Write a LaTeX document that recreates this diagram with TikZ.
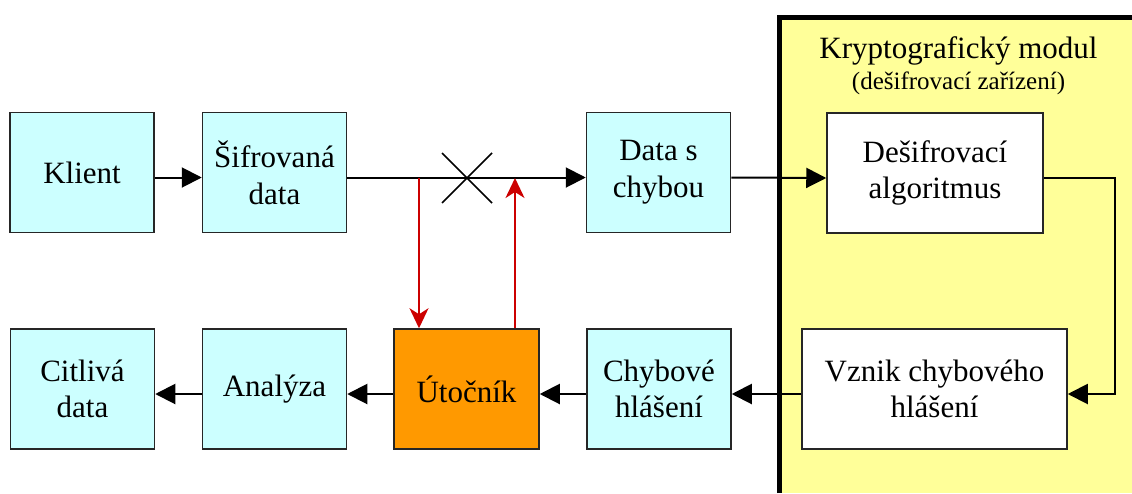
\documentclass[tikz,border=0pt]{standalone}
\usepackage{fontspec}
\setmainfont{Liberation Serif}
\usetikzlibrary{arrows.meta,calc}
\definecolor{boxcyan}{HTML}{CCFFFF}
\definecolor{attorange}{HTML}{FF9900}
\definecolor{modyellow}{HTML}{FFFF99}
\definecolor{attred}{HTML}{CC0000}
\tikzset{
  blk/.style={draw=black!85, line width=1.5pt, fill=boxcyan, minimum height=120pt, minimum width=144pt, align=center, inner sep=0pt, font=\fontsize{31}{36.7}\selectfont},
  conn/.style={line width=2pt, -{Triangle[length=20pt,width=20pt]}},
  redarr/.style={attred, line width=2pt, -{Stealth[length=20pt,width=19pt,inset=6pt]}},
}
\begin{document}
\begin{tikzpicture}[x=1pt,y=-1pt]
\useasboundingbox (0,0) rectangle (1132,493);
% crypto module region
\fill[modyellow] (779.5,17.5) rectangle (1132,493);
\draw[line width=5pt] (779.5,493) -- (779.5,17.5) -- (1132,17.5);
\node[font=\fontsize{31}{36}\selectfont, anchor=base, inner sep=0pt] (title) at (958.5,58) {Kryptografický modul};
\node[font=\fontsize{25}{30}\selectfont, anchor=base, inner sep=0pt] (subtitle) at (958.5,89) {(dešifrovací zařízení)};
% boxes
\node[blk] (kl) at (82,172.5) {Klient};
\node[blk] (sd) at (274.5,172.5) {Šifrovaná\\data};
\node[blk] (dc) at (658.5,172.5) {Data s\\chybou};
\node[blk, fill=white, minimum width=216pt] (da) at (935,173) {Dešifrovací\\algoritmus};
\node[blk, fill=white, minimum width=265pt] (vz) at (934.5,389) {Vznik chybového\\hlášení};
\node[blk] (ch) at (659,389) {Chybové\\hlášení};
\node[blk, fill=attorange, minimum width=145pt] (ut) at (466.5,389) {Útočník};
\node[blk] (an) at (274.5,389) {Analýza};
\node[blk] (ci) at (82.5,389) {Citlivá\\data};
% connectors
\draw[conn] ([yshift=-5pt]kl.east) -- ([yshift=-5pt]sd.west);
\draw[conn] ([yshift=-5pt]sd.east) -- ([yshift=-5pt]dc.west);
\draw[conn] ([yshift=-5pt]dc.east) -- ([yshift=-5pt]da.west);
\coordinate (rt) at (1115,178);
\coordinate (vzin) at ([yshift=-5pt]vz.east);
\draw[conn] ([yshift=-5pt]da.east) -- (rt) -- (rt |- vzin) -- (vzin);
\draw[conn] ([yshift=-5pt]vz.west) -- ([yshift=-5pt]ch.east);
\draw[conn] ([yshift=-5pt]ch.west) -- ([yshift=-5pt]ut.east);
\draw[conn] ([yshift=-5pt]ut.west) -- ([yshift=-5pt]an.east);
\draw[conn] ([yshift=-5pt]an.west) -- ([yshift=-5pt]ci.east);
% interception
\coordinate (tap) at (419,178);
\coordinate (ret) at (515,178);
\coordinate (cut) at (467,178);
\draw[line width=1.5pt] ($(cut)+(-25,-25)$) -- ($(cut)+(25,25)$);
\draw[line width=1.5pt] ($(cut)+(-25,25)$) -- ($(cut)+(25,-25)$);
\draw[redarr] (tap) -- (tap |- ut.north);
\draw[redarr] (ret |- ut.north) -- (ret);
\end{tikzpicture}
\end{document}
